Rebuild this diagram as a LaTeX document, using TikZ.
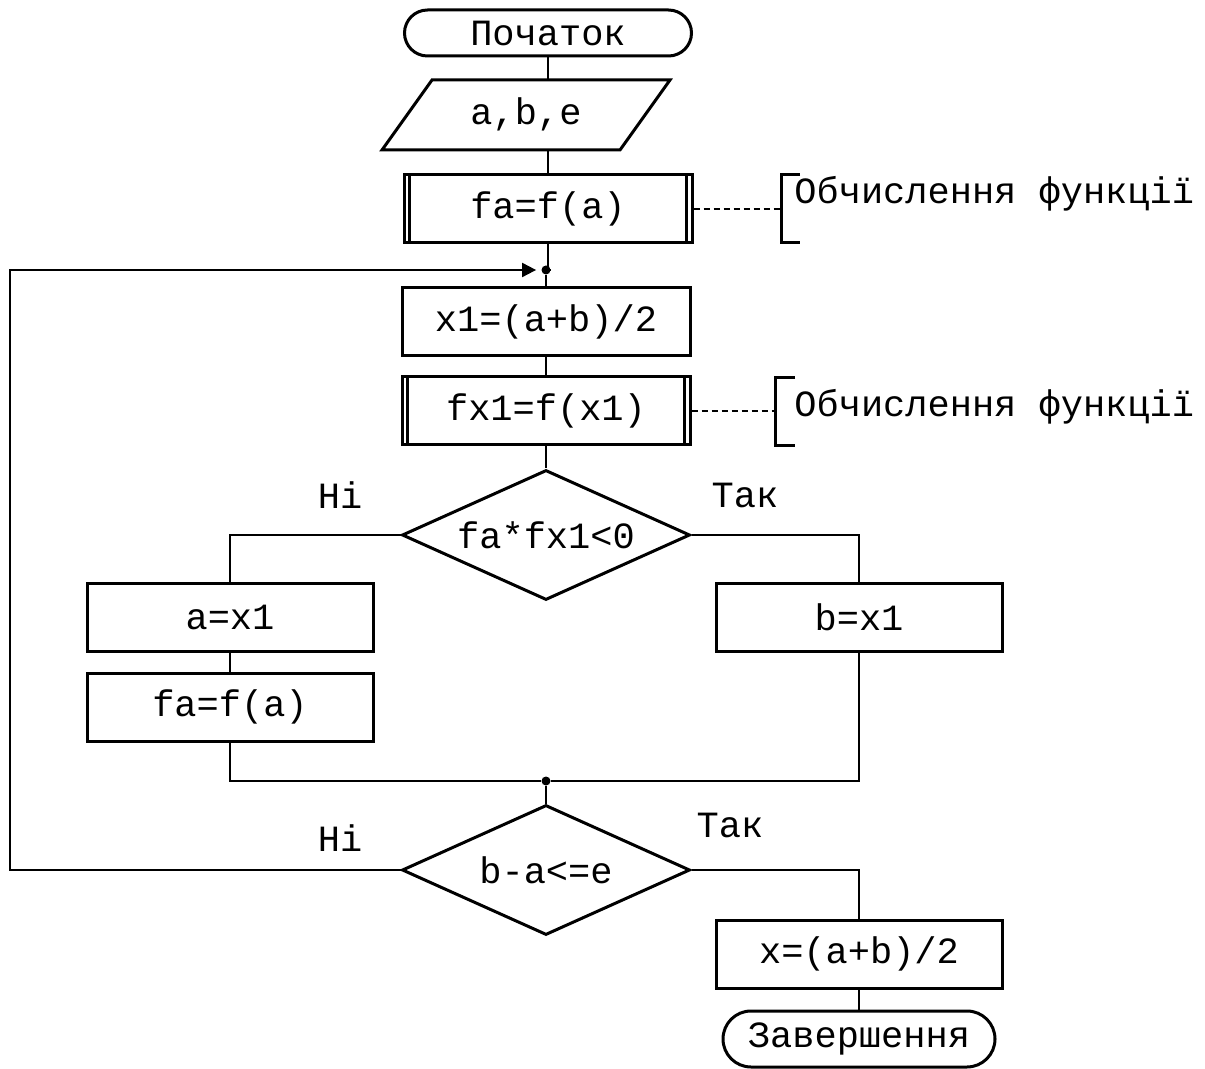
\documentclass[tikz,border=0pt]{standalone}
\usepackage{fontspec}
\setmainfont{Liberation Mono}
\usetikzlibrary{shapes.geometric,arrows.meta}

\tikzset{
  base/.style={draw, line width=1.5pt, inner sep=0pt, align=center},
  procbox/.style={base, rectangle, minimum width=144pt, minimum height=34pt},
  subbox/.style={procbox},
  termbox/.style={base, rectangle, rounded corners=11.5pt, minimum height=23pt},
  decision/.style={base, diamond, aspect=2.215, minimum width=144pt, minimum height=65pt},
  conn/.style={line width=1pt},
  note/.style={line width=1pt, dash pattern=on 3pt off 2pt},
  bracket/.style={line width=1.5pt},
  junction/.style={circle, fill, inner sep=0pt, minimum size=4.5pt},
  lbl/.style={inner sep=0pt},
}

% inner side bars of a predefined-process box
\newcommand\subbars[1]{%
  \draw[line width=1.5pt] ([xshift=3.5pt]#1.north west) -- ([xshift=3.5pt]#1.south west);
  \draw[line width=1.5pt] ([xshift=-3.5pt]#1.north east) -- ([xshift=-3.5pt]#1.south east);
}

\begin{document}
\begin{tikzpicture}[x=0.5pt, y=-0.5pt, font=\fontsize{18.5pt}{22pt}\selectfont]
  \useasboundingbox (0,0) rectangle (1205,1069);

  % start
  \node[termbox, minimum width=143.5pt] (start) at (548,33) {Початок};

  % input parallelogram
  \coordinate (inT) at (548,80);
  \coordinate (inB) at (548,150);
  \draw[line width=1.5pt] (432,80) -- (670,80) -- (620,150) -- (382,150) -- cycle;
  \node[lbl] (input) at (526,114) {a,b,e};

  % f(a)
  \node[subbox] (fa) at (548,209) {fa=f(a)};
  \subbars{fa}

  \node[junction] (dot1) at (546,270) {};

  \node[procbox] (x1) at (546,322) {x1=(a+b)/2};
  \node[subbox] (fx1) at (546,411) {fx1=f(x1)};
  \subbars{fx1}

  \node[decision] (d1) at (546,535) {fa*fx1<0};

  \node[procbox, minimum width=143pt] (a1) at (230,617) {a=x1};
  \node[procbox, minimum width=143pt] (fa2) at (230,707) {fa=f(a)};
  \node[procbox, minimum width=143pt] (b1) at (859,617) {b=x1};

  \node[junction] (dot2) at (546,781) {};

  \node[decision] (d2) at (546,870) {b-a<=e};

  \node[procbox, minimum width=143pt] (xr) at (859,954) {x=(a+b)/2};
  \node[termbox, minimum width=136pt, minimum height=28pt, rounded corners=14pt] (stop) at (859,1039) {Завершення};

  % branch labels
  \node[lbl] (n1) at (340,495) {Ні};
  \node[lbl] (y1) at (745,495) {Так};
  \node[lbl] (n2) at (340,838) {Ні};
  \node[lbl] (y2) at (730,825) {Так};

  % annotations
  \coordinate (br1) at (781,209);
  \draw[bracket] (800,175) -- (781,175) -- (781,243) -- (800,243);
  \node[lbl, anchor=base west] (t1) at (794,204) {Обчислення функції};
  \draw[note] (fa.east) -- (br1);

  \coordinate (br2) at (775,411);
  \draw[bracket] (795,378) -- (775,378) -- (775,446) -- (795,446);
  \node[lbl, anchor=base west] (t2) at (794,417) {Обчислення функції};
  \draw[note] (fx1.east) -- (br2);

  % connectors
  \draw[conn] (start.south) -- (inT);
  \draw[conn] (inB) -- (fa.north);
  \draw[conn] (fa.south) -- (fa.south |- dot1) -- (dot1) -- (x1.north);
  \draw[conn] (x1.south) -- (fx1.north);
  \draw[conn] (fx1.south) -- (d1.north);
  \draw[conn] (d1.west) -| (a1.north);
  \draw[conn] (d1.east) -| (b1.north);
  \draw[conn] (a1.south) -- (fa2.north);
  \draw[conn] (fa2.south) |- (dot2) -| (b1.south);
  \draw[conn] (dot2) -- (d2.north);
  \draw[conn] (d2.east) -| (xr.north);
  \draw[conn] (xr.south) -- (stop.north);

  % loop back
  \coordinate (loopx) at (10,600);
  \draw[conn, -{Triangle[length=7pt,width=7pt]}, shorten >=2.5pt]
    (d2.west) -- (d2.west -| loopx) |- (dot1);
\end{tikzpicture}
\end{document}
